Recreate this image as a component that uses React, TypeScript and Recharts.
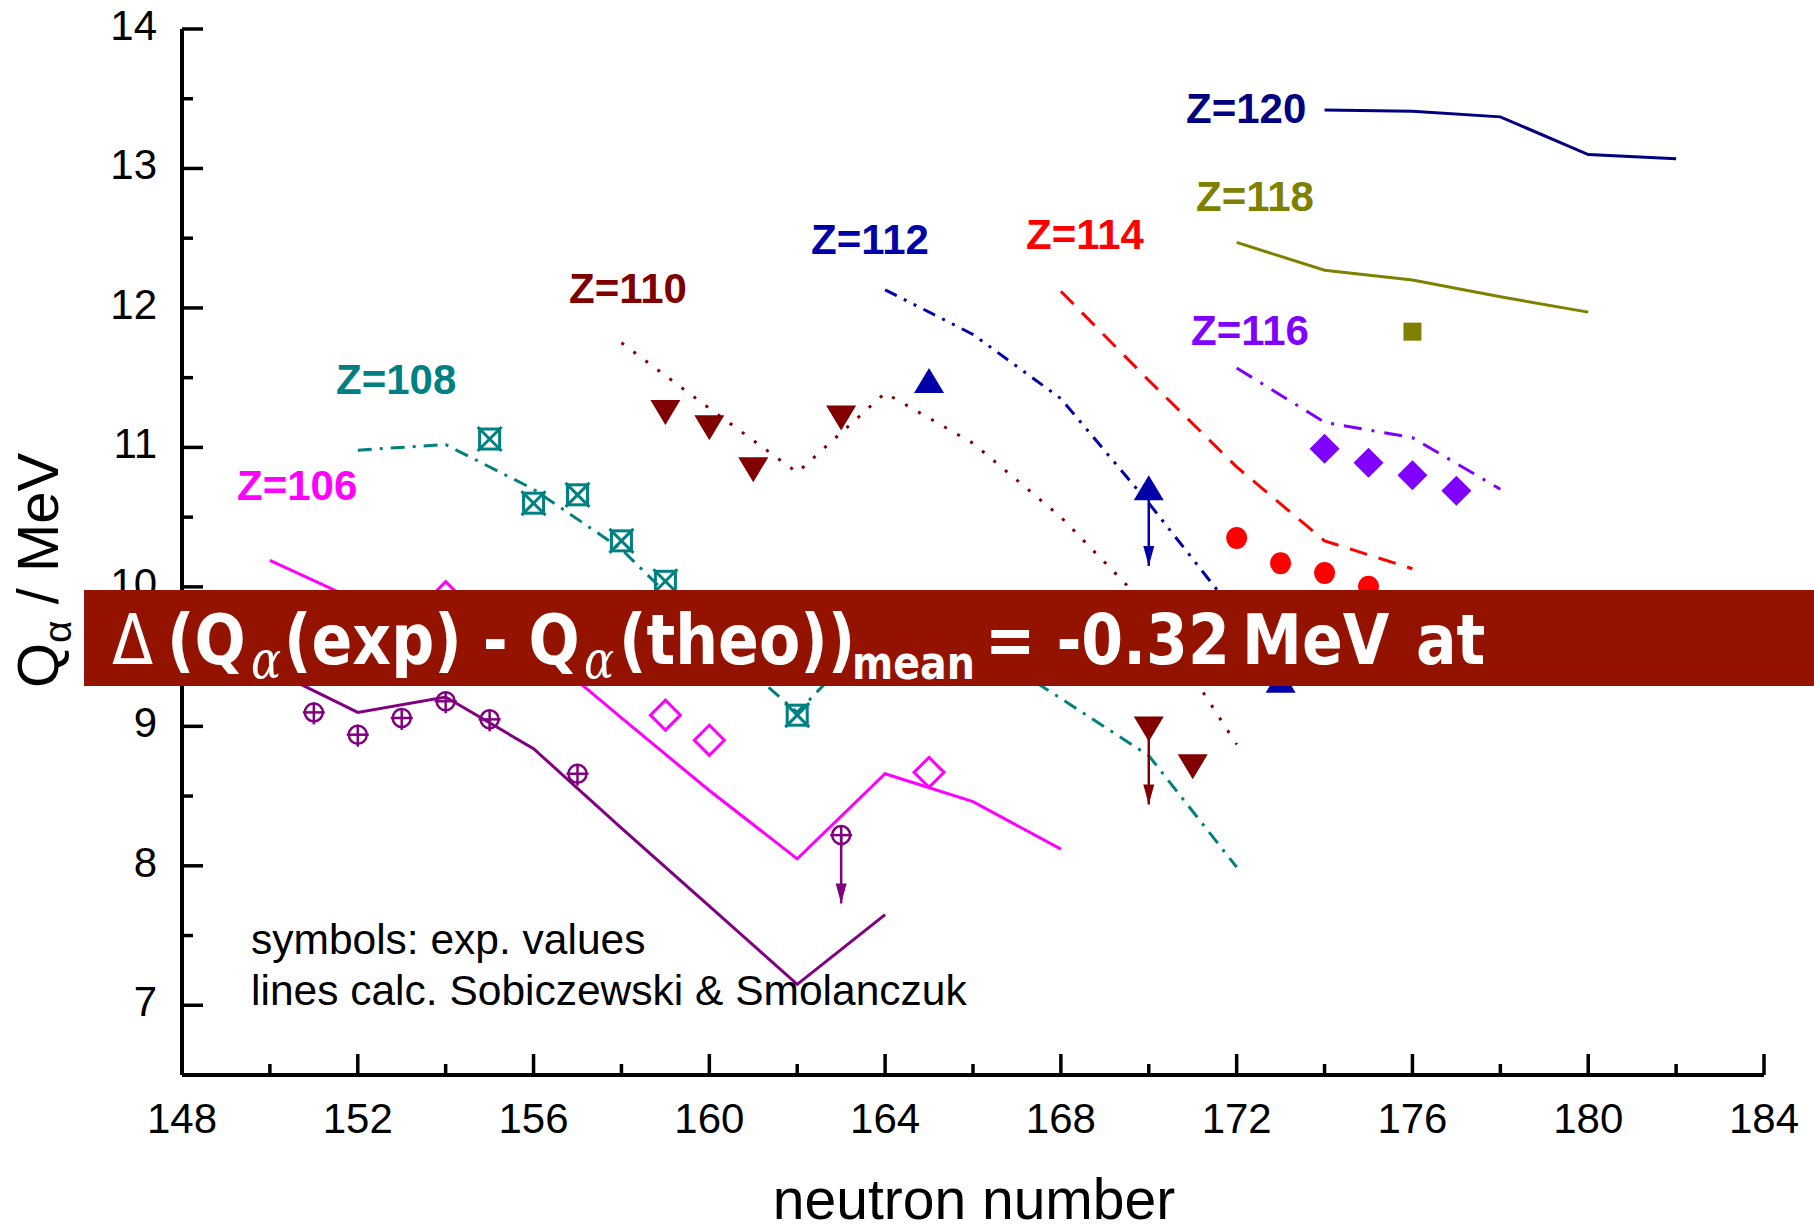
import { ComposedChart, Line, XAxis, YAxis } from "recharts";

const W = 1814;
const H = 1225;
const SANS = "'Liberation Sans', Arial, sans-serif";

// calculated Q-alpha (MeV) vs neutron number, one pair of arrays per element
const calcN104 = [150, 152, 154, 156, 158, 160, 162, 164];
const calcQ104 = [9.41, 9.1, 9.21, 8.84, 8.27, 7.71, 7.15, 7.65];
const calcN106 = [150, 152, 154, 156, 158, 160, 162, 164, 166, 168];
const calcQ106 = [10.19, 9.9, 9.8, 9.59, 9.06, 8.54, 8.05, 8.66, 8.46, 8.12];
const calcN108 = [152, 154, 156, 158, 160, 162, 164, 166, 168, 170, 172];
const calcQ108 = [10.98, 11.02, 10.7, 10.27, 9.65, 9.1, 9.75, 9.6, 9.2, 8.79, 7.99];
const calcN110 = [158, 160, 162, 164, 166, 168, 170, 172];
const calcQ110 = [11.75, 11.28, 10.82, 11.39, 11.03, 10.5, 9.85, 8.87];
const calcN112 = [164, 166, 168, 170, 172];
const calcQ112 = [12.13, 11.81, 11.35, 10.6, 9.8];
const calcN114 = [168, 170, 172, 174, 176];
const calcQ114 = [12.12, 11.48, 10.86, 10.33, 10.13];
const calcN116 = [172, 174, 176, 178];
const calcQ116 = [11.57, 11.18, 11.07, 10.7];
const calcN118 = [172, 174, 176, 178, 180];
const calcQ118 = [12.47, 12.27, 12.2, 12.08, 11.97];
const calcN120 = [174, 176, 178, 180, 182];
const calcQ120 = [13.42, 13.41, 13.37, 13.1, 13.07];

// experimental values
const expN104 = [151, 152, 153, 154, 155, 157, 163];
const expQ104 = [9.1, 8.94, 9.06, 9.18, 9.05, 8.66, 8.22];
const expN106 = [154, 159, 160, 165];
const expQ106 = [9.93, 9.08, 8.9, 8.67];
const expN108 = [155, 156, 157, 158, 159, 162];
const expQ108 = [11.06, 10.6, 10.66, 10.33, 10.04, 9.08];
const expN110 = [159, 160, 161, 163, 170, 171];
const expQ110 = [11.25, 11.14, 10.84, 11.21, 8.98, 8.71];
const expN112 = [165, 170, 173];
const expQ112 = [11.48, 10.71, 9.33];
const expN114 = [172, 173, 174, 175];
const expQ114 = [10.35, 10.17, 10.1, 10.0];
const expN116 = [174, 175, 176, 177];
const expQ116 = [10.99, 10.89, 10.8, 10.69];
const expN118 = [176];
const expQ118 = [11.83];

// upper limits: [neutron number, from, to, colour]
const limits: [number, number, number, string][] = [
  [163, 8.22, 7.73, "#800080"],
  [170, 8.98, 8.44, "#800000"],
  [170, 10.71, 10.15, "#0000A8"],
];

const xTicks = [148, 150, 152, 154, 156, 158, 160, 162, 164, 166, 168, 170, 172, 174, 176, 178, 180, 182, 184];
const yTicks = [7, 7.5, 8, 8.5, 9, 9.5, 10, 10.5, 11, 11.5, 12, 12.5, 13, 13.5, 14];

const pts = (n: number[], q: number[]) => n.map((v, i) => ({ n: v, q: q[i] }));

const calcLines = [
  { id: "c104", data: pts(calcN104, calcQ104), color: "#800080", dash: undefined },
  { id: "c106", data: pts(calcN106, calcQ106), color: "#FF00FF", dash: undefined },
  { id: "c108", data: pts(calcN108, calcQ108), color: "#008080", dash: "14 8 3 8" },
  { id: "c110", data: pts(calcN110, calcQ110), color: "#800000", dash: "3 12" },
  { id: "c112", data: pts(calcN112, calcQ112), color: "#0000A8", dash: "13 8 3 8 3 8" },
  { id: "c114", data: pts(calcN114, calcQ114), color: "#FF0000", dash: "18 12" },
  { id: "c116", data: pts(calcN116, calcQ116), color: "#8000FF", dash: "18 10 3 10" },
  { id: "c118", data: pts(calcN118, calcQ118), color: "#808000", dash: undefined },
  { id: "c120", data: pts(calcN120, calcQ120), color: "#000080", dash: undefined },
];

type ShapeKind = "circlePlus" | "diamondOpen" | "squareX" | "triDown" | "triUp" | "circle" | "diamond" | "square";

const expSets: { id: string; data: { n: number; q: number }[]; color: string; shape: ShapeKind }[] = [
  { id: "e104", data: pts(expN104, expQ104), color: "#800080", shape: "circlePlus" },
  { id: "e106", data: pts(expN106, expQ106), color: "#FF00FF", shape: "diamondOpen" },
  { id: "e108", data: pts(expN108, expQ108), color: "#008080", shape: "squareX" },
  { id: "e110", data: pts(expN110, expQ110), color: "#800000", shape: "triDown" },
  { id: "e112", data: pts(expN112, expQ112), color: "#0000A8", shape: "triUp" },
  { id: "e114", data: pts(expN114, expQ114), color: "#FF0000", shape: "circle" },
  { id: "e116", data: pts(expN116, expQ116), color: "#8000FF", shape: "diamond" },
  { id: "e118", data: pts(expN118, expQ118), color: "#808000", shape: "square" },
];

function Marker({ cx, cy, color, shape }: { cx: number; cy: number; color: string; shape: ShapeKind }) {
  switch (shape) {
    case "circlePlus":
      return (
        <g stroke={color} strokeWidth={2.5} fill="none">
          <circle cx={cx} cy={cy} r={9} />
          <line x1={cx - 11} x2={cx + 11} y1={cy} y2={cy} />
          <line x1={cx} x2={cx} y1={cy - 10} y2={cy + 12} />
        </g>
      );
    case "diamondOpen":
      return (
        <polygon
          points={`${cx},${cy - 15} ${cx + 15},${cy} ${cx},${cy + 15} ${cx - 15},${cy}`}
          fill="none"
          stroke={color}
          strokeWidth={3}
        />
      );
    case "squareX":
      return (
        <g stroke={color} strokeWidth={3} fill="none">
          <rect x={cx - 10} y={cy - 10} width={20} height={20} />
          <line x1={cx - 12} y1={cy - 12} x2={cx + 12} y2={cy + 12} />
          <line x1={cx + 12} y1={cy - 12} x2={cx - 12} y2={cy + 12} />
        </g>
      );
    case "triDown":
      return <polygon points={`${cx - 15},${cy - 12.5} ${cx + 15},${cy - 12.5} ${cx},${cy + 12.5}`} fill={color} />;
    case "triUp":
      return <polygon points={`${cx - 15},${cy + 12.5} ${cx + 15},${cy + 12.5} ${cx},${cy - 12.5}`} fill={color} />;
    case "circle":
      return <ellipse cx={cx} cy={cy} rx={10.5} ry={11} fill={color} />;
    case "diamond":
      return <polygon points={`${cx},${cy - 15} ${cx + 15},${cy} ${cx},${cy + 15} ${cx - 15},${cy}`} fill={color} />;
    case "square":
      return <rect x={cx - 9} y={cy - 9} width={18} height={18} fill={color} />;
  }
}

function BottomTick({ x, y, payload }: any) {
  const v = payload.value;
  const major = v % 4 === 0;
  return (
    <g>
      <line x1={x} x2={x} y1={y} y2={y - (major ? 21 : 11)} stroke="#000" strokeWidth={3.5} />
      {major && (
        <text x={x} y={y + 58} textAnchor="middle" fontSize={42} fontFamily={SANS} fill="#000">
          {v}
        </text>
      )}
    </g>
  );
}

function TopTick({ x, y, payload }: any) {
  const major = payload.value % 4 === 0;
  return <line x1={x} x2={x} y1={y} y2={y + (major ? 21 : 11)} stroke="#000" strokeWidth={3.5} />;
}

function LeftTick({ x, y, payload }: any) {
  const v = payload.value;
  const major = Number.isInteger(v);
  return (
    <g>
      <line x1={x} x2={x + (major ? 21 : 11)} y1={y} y2={y} stroke="#000" strokeWidth={3.5} />
      {major && (
        <text x={x - 25} y={y + 11} textAnchor="end" fontSize={42} fontFamily={SANS} fill="#000">
          {v}
        </text>
      )}
    </g>
  );
}

const zLabels = [
  { text: "Z=120", x: 1186, y: 123, color: "#000080" },
  { text: "Z=118", x: 1196, y: 211, color: "#808000" },
  { text: "Z=116", x: 1191, y: 345, color: "#8000FF" },
  { text: "Z=114", x: 1026, y: 249, color: "#FF0000" },
  { text: "Z=112", x: 811, y: 254, color: "#0000A8" },
  { text: "Z=110", x: 569, y: 303, color: "#800000" },
  { text: "Z=108", x: 336, y: 394, color: "#008080" },
  { text: "Z=106", x: 237, y: 500, color: "#FF00FF" },
];

// banner text is drawn horizontally squeezed; bx maps a page x into that frame
const BANNER_SX = 0.86;
const bx = (x: number) => x / BANNER_SX;

export default function App() {
  return (
    <div style={{ position: "absolute", left: 0, top: 0, width: W, height: H, background: "#fff" }}>
      <ComposedChart width={W} height={H} margin={{ top: 29, right: 50, bottom: 0, left: 0 }}>
        <XAxis
          type="number"
          dataKey="n"
          domain={[148, 184]}
          ticks={xTicks}
          interval={0}
          height={150}
          tickSize={0}
          tickMargin={0}
          tickLine={false}
          axisLine={{ stroke: "#000", strokeWidth: 4 }}
          tick={BottomTick}
          allowDataOverflow
        />
        <XAxis
          xAxisId="top"
          orientation="top"
          type="number"
          dataKey="n"
          domain={[148, 184]}
          ticks={xTicks}
          interval={0}
          height={0}
          tickSize={0}
          tickMargin={0}
          tickLine={false}
          axisLine={{ stroke: "#000", strokeWidth: 4 }}
          tick={TopTick}
        />
        <YAxis
          type="number"
          dataKey="q"
          domain={[6.5, 14]}
          ticks={yTicks}
          interval={0}
          width={182}
          tickSize={0}
          tickMargin={0}
          tickLine={false}
          axisLine={{ stroke: "#000", strokeWidth: 4 }}
          tick={LeftTick}
          allowDataOverflow
        />
        <YAxis
          yAxisId="right"
          orientation="right"
          type="number"
          domain={[6.5, 14]}
          width={0}
          tick={false}
          tickLine={false}
          axisLine={{ stroke: "#000", strokeWidth: 4 }}
        />

        {calcLines.map((s) => (
          <Line
            key={s.id}
            data={s.data}
            dataKey="q"
            type="linear"
            stroke={s.color}
            strokeWidth={3}
            strokeDasharray={s.dash}
            dot={false}
            activeDot={false}
            isAnimationActive={false}
          />
        ))}

        {limits.map(([n, from, to, color], i) => (
          <Line
            key={`lim${i}`}
            data={[
              { n, q: from },
              { n, q: to },
            ]}
            dataKey="q"
            type="linear"
            stroke={color}
            strokeWidth={2.5}
            activeDot={false}
            isAnimationActive={false}
            dot={(p: any) =>
              p.index === 1 ? (
                <polygon
                  key={`ah${i}`}
                  points={`${p.cx - 5.5},${p.cy - 20} ${p.cx + 5.5},${p.cy - 20} ${p.cx},${p.cy}`}
                  fill={color}
                />
              ) : (
                <g key={`as${i}`} />
              )
            }
          />
        ))}

        {expSets.map((s) => (
          <Line
            key={s.id}
            data={s.data}
            dataKey="q"
            stroke="none"
            activeDot={false}
            isAnimationActive={false}
            dot={(p: any) => (
              <g key={`${s.id}-${p.index}`}>
                <Marker cx={p.cx} cy={p.cy} color={s.color} shape={s.shape} />
              </g>
            )}
          />
        ))}
      </ComposedChart>

      <svg width={W} height={H} style={{ position: "absolute", left: 0, top: 0, pointerEvents: "none" }}>
        {zLabels.map((z) => (
          <text key={z.text} x={z.x} y={z.y} fill={z.color} fontSize={42} fontWeight="bold" fontFamily={SANS}>
            {z.text}
          </text>
        ))}

        <text x={251} y={954} fontSize={42.5} fontFamily={SANS} fill="#000">
          symbols: exp. values
        </text>
        <text x={251} y={1005} fontSize={42.5} fontFamily={SANS} fill="#000">
          lines calc. Sobiczewski &amp; Smolanczuk
        </text>

        <text x={974} y={1219} textAnchor="middle" fontSize={57} fontFamily={SANS} fill="#000">
          neutron number
        </text>
        <text
          transform="translate(58,688) rotate(-90)"
          fontSize={58}
          fontFamily={SANS}
          fill="#000"
          style={{ whiteSpace: "pre" }}
        >
          Q<tspan fontSize={39} dy={13}>α</tspan>
          <tspan dy={-13}> / MeV</tspan>
        </text>

        {/* summary banner */}
        <rect x={84} y={590} width={W - 84} height={96} fill="#931300" />
        <text
          transform={`translate(0,664) scale(${BANNER_SX},1)`}
          fill="#fff"
          fontSize={70}
          fontWeight="bold"
          fontFamily="'DejaVu Sans', Verdana, sans-serif"
          style={{ whiteSpace: "pre" }}
        >
          <tspan x={bx(112)} fontWeight="normal">Δ</tspan>
          <tspan x={bx(167)}>(Q</tspan>
          <tspan x={bx(251)} fontSize={52} fontStyle="italic" fontWeight="normal" fontFamily="'DejaVu Serif', serif" dy={14}>
            α
          </tspan>
          <tspan x={bx(284)} dy={-14}>(exp) - Q</tspan>
          <tspan x={bx(584)} fontSize={52} fontStyle="italic" fontWeight="normal" fontFamily="'DejaVu Serif', serif" dy={14}>
            α
          </tspan>
          <tspan x={bx(619)} dy={-14}>(theo))</tspan>
          <tspan x={bx(852)} fontSize={46} dy={15}>mean</tspan>
          <tspan x={bx(985)} dy={-15}>= -0.32</tspan>
          <tspan x={bx(1242)}>MeV</tspan>
          <tspan x={bx(1416)}>at</tspan>
        </text>
      </svg>
    </div>
  );
}
